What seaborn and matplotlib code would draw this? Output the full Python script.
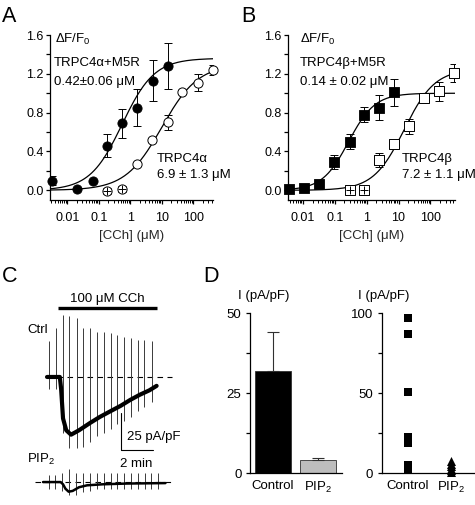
import numpy as np
import matplotlib
matplotlib.use("Agg")
import matplotlib.pyplot as plt
import matplotlib.ticker as mticker
import seaborn as sns

# ==========================================
# DATOS
# ==========================================

# Panel A - TRPC4alpha (+M5R relleno, solo abierto)
conc_a_m5r = [0.0033, 0.021, 0.064, 0.18, 0.55, 1.6, 5.3, 16]
resp_a_m5r = [0.10, 0.01, 0.10, 0.46, 0.69, 0.85, 1.13, 1.28]
err_a_m5r = [0.05, 0.0, 0.0, 0.115, 0.15, 0.19, 0.21, 0.24]
conc_a = [0.18, 0.55, 1.6, 5.0, 16, 45, 140, 420]
resp_a = [-0.005, 0.01, 0.27, 0.52, 0.70, 1.01, 1.11, 1.24]
err_a = [0.03, 0.03, 0.02, 0.02, 0.08, 0.02, 0.09, 0.05]
cruz_a = [True, True, False, False, False, False, False, False]

# Panel B - TRPC4beta
conc_b_m5r = [0.0036, 0.011, 0.032, 0.092, 0.29, 0.8, 2.4, 7.2]
resp_b_m5r = [0.015, 0.025, 0.06, 0.29, 0.50, 0.78, 0.85, 1.01]
err_b_m5r = [0.01, 0.01, 0.02, 0.075, 0.075, 0.08, 0.13, 0.14]
conc_b = [0.29, 0.8, 2.4, 7.2, 21, 63, 190, 560]
resp_b = [0.0, 0.0, 0.31, 0.48, 0.66, 0.95, 1.02, 1.21]
err_b = [0.03, 0.03, 0.07, 0.02, 0.077, 0.05, 0.10, 0.09]
cruz_b = [True, True, False, False, False, False, False, False]

# ajustes Hill: (maximo, EC50, n)
fit_a_m5r = (1.36, 0.55, 0.85)
fit_a = (1.30, 10.0, 0.75)
fit_b_m5r = (1.00, 0.27, 1.05)
fit_b = (1.25, 15.0, 0.90)

# Panel C - registro (min, pA/pF)
ctrl_t = [0, 0.8, 0.88, 1.0, 1.2, 1.5, 2.0, 2.7, 3.3, 3.9, 4.6, 5.2, 5.8, 6.4, 6.85]
ctrl_i = [0, 0, -8, -28, -36, -39, -36, -31, -27, -23.5, -19.5, -15.5, -12, -9, -6]
ramp_t = [0.15, 0.56, 0.98, 1.40, 1.85, 2.27, 2.69, 3.15, 3.56, 4.0,
          4.4, 4.83, 5.25, 5.67, 6.08, 6.54]
ramp_top = [24, 33, 42, 41, 40, 33, 33, 30.5, 30.5, 29.5, 28.5, 27, 26, 25, 25, 24]
ramp_bot = [-8, -8, -38, -48, -48, -47, -44, -40, -38, -35, -32, -30, -27, -23, -20, -17]

pip_t = [-0.25, 0.85, 1.0, 1.15, 1.35, 1.6, 2.0, 2.5, 3.5, 5.0, 7.4]
pip_i = [0, 0, -1.5, -4.5, -6.5, -6, -3.5, -2.2, -1.5, -1, -0.7]
pip_ramp_t = [0.1, 0.5, 0.93, 1.37, 1.82, 2.25, 2.68, 3.12, 3.55, 3.98,
              4.4, 4.83, 5.25, 5.67, 6.1, 6.53, 6.95]
pip_ramp_top = [5, 5, 6, 9, 6, 6, 6, 6, 6, 6, 6, 6, 6, 6, 6, 6, 6]
pip_ramp_bot = [-5, -5, -6, -9, -9, -7, -6, -5, -5, -5, -5, -5, -5, -5, -5, -5, -5]

# Panel D
grupos = ["Control", "PIP$_2$"]
media_d = [32.1, 4.1]
err_d = [12.2, 0.6]
ctrl_celdas = [97, 87, 51, 23, 19, 5, 2]
pip_celdas = [8, 6, 4.5, 3, 2, 1]

# ==========================================
# ESTILO
# ==========================================

sns.set_theme(style="ticks")
plt.rcParams["font.family"] = ["Liberation Sans", "DejaVu Sans"]
plt.rcParams["mathtext.fontset"] = "custom"
plt.rcParams["mathtext.rm"] = "Liberation Sans"
plt.rcParams["mathtext.it"] = "Liberation Sans:italic"
plt.rcParams["mathtext.default"] = "regular"
plt.rcParams.update({
    "font.size": 9,
    "xtick.labelsize": 9,
    "ytick.labelsize": 9,
    "axes.labelsize": 9.5,
    "axes.linewidth": 0.9,
    "xtick.major.width": 0.9,
    "ytick.major.width": 0.9,
    "xtick.minor.width": 0.7,
    "ytick.minor.width": 0.9,
    "xtick.major.size": 3.2,
    "xtick.minor.size": 2.0,
    "ytick.major.size": 3.2,
    "ytick.minor.size": 3.2,
    "axes.edgecolor": "black",
    "xtick.color": "black",
    "ytick.color": "black",
    "text.color": "black",
})

W, H = 475, 505
fig = plt.figure(figsize=(W / 100, H / 100), dpi=100)


def px(x, y):
    return x / W, 1 - y / H


def hill(x, top, ec50, n):
    return top / (1 + (ec50 / x) ** n)


# ==========================================
# PANELES A y B
# ==========================================

def dosis(rect, xlim, fill_x, fill_y, fill_e, open_x, open_y, open_e, cruz,
          fit_fill, fit_open, marker):
    ax = fig.add_axes(rect)
    xs = np.logspace(np.log10(xlim[0]), np.log10(xlim[1]), 200)
    sns.lineplot(x=xs, y=hill(xs, *fit_fill), ax=ax, color="black", lw=0.9)
    sns.lineplot(x=xs, y=hill(xs, *fit_open), ax=ax, color="black", lw=0.9)
    ax.errorbar(fill_x, fill_y, yerr=fill_e, fmt="none", ecolor="black",
                elinewidth=0.7, capsize=2.8, capthick=0.7, zorder=3)
    ax.errorbar(open_x, open_y, yerr=open_e, fmt="none", ecolor="black",
                elinewidth=0.7, capsize=2.8, capthick=0.7, zorder=3)
    sns.scatterplot(x=fill_x, y=fill_y, ax=ax, marker=marker, s=44,
                    color="black", edgecolor="black", linewidth=0.6,
                    zorder=4, clip_on=False)
    sns.scatterplot(x=open_x, y=open_y, ax=ax, marker=marker, s=44,
                    color="white", edgecolor="black", linewidth=0.7,
                    zorder=4, clip_on=False)
    cx = [x for x, c in zip(open_x, cruz) if c]
    cy = [y for y, c in zip(open_y, cruz) if c]
    ax.scatter(cx, cy, marker="+", s=34, color="black", linewidth=0.7, zorder=6)
    ax.set_xscale("log")
    ax.set_xlim(*xlim)
    ax.set_ylim(-0.1, 1.6)
    ax.set_yticks([0, 0.4, 0.8, 1.2, 1.6])
    ax.set_yticklabels(["0.0", "0.4", "0.8", "1.2", "1.6"])
    ax.yaxis.set_minor_locator(mticker.FixedLocator([0.2, 0.6, 1.0, 1.4]))
    ax.xaxis.set_major_locator(mticker.FixedLocator([0.01, 0.1, 1, 10, 100]))
    ax.xaxis.set_major_formatter(mticker.FixedFormatter(["0.01", "0.1", "1", "10", "100"]))
    ax.xaxis.set_minor_locator(mticker.LogLocator(base=10, subs=np.arange(2, 10), numticks=20))
    ax.xaxis.set_minor_formatter(mticker.NullFormatter())
    ax.tick_params(axis="x", pad=5.5)
    ax.tick_params(axis="y", pad=1.5)
    ax.set_xlabel("[CCh] (μM)", labelpad=4)
    ax.set_ylabel("")
    sns.despine(ax=ax)
    return ax


ax_a = dosis([50 / W, 1 - 200 / H, 163 / W, 165 / H], (0.00284, 420),
             conc_a_m5r, resp_a_m5r, err_a_m5r, conc_a, resp_a, err_a, cruz_a,
             fit_a_m5r, fit_a, "o")
ax_b = dosis([288 / W, 1 - 200 / H, 167 / W, 165 / H], (0.0034, 590),
             conc_b_m5r, resp_b_m5r, err_b_m5r, conc_b, resp_b, err_b, cruz_b,
             fit_b_m5r, fit_b, "s")

fs_t = 9.5
fig.text(*px(55, 43), "ΔF/F$_0$", fontsize=fs_t)
fig.text(*px(54, 66), "TRPC4α+M5R", fontsize=fs_t)
fig.text(*px(54, 85), "0.42±0.06 μM", fontsize=fs_t)
fig.text(*px(157, 162), "TRPC4α", fontsize=fs_t)
fig.text(*px(157, 178), "6.9 ± 1.3 μM", fontsize=fs_t)

fig.text(*px(300, 43), "ΔF/F$_0$", fontsize=fs_t)
fig.text(*px(300, 66), "TRPC4β+M5R", fontsize=fs_t)
fig.text(*px(300, 85), "0.14 ± 0.02 μM", fontsize=fs_t)
fig.text(*px(402, 162), "TRPC4β", fontsize=fs_t)
fig.text(*px(402, 178), "7.2 ± 1.1 μM", fontsize=fs_t)

# ==========================================
# PANEL C
# ==========================================

ax_c = fig.add_axes([0, 0, 235 / W, 230 / H])
ax_c.set_xlim(-2.94, 11.75)
ax_c.set_ylim(-86.5, 68.9)
ax_c.axis("off")

pip_off = -71

ax_c.hlines(0, 0, 7.8, colors="black", lw=0.8, linestyles=(0, (5, 4)))
ax_c.hlines(pip_off, -0.75, 7.8, colors="black", lw=0.8, linestyles=(0, (5, 4)))
ax_c.vlines(ramp_t, ramp_bot, ramp_top, colors="#3a3a3a", lw=0.7)
sns.lineplot(x=ctrl_t, y=ctrl_i, ax=ax_c, color="black", lw=3.0, sort=False,
             estimator=None)
ax_c.vlines(pip_ramp_t, np.array(pip_ramp_bot) + pip_off,
            np.array(pip_ramp_top) + pip_off, colors="#3a3a3a", lw=0.7)
sns.lineplot(x=pip_t, y=np.array(pip_i) + pip_off, ax=ax_c, color="black",
             lw=1.8, sort=False, estimator=None)

ax_c.hlines(46.6, 0.69, 6.9, colors="black", lw=2.4)
ax_c.text(3.75, 50.7, "100 μM CCh", ha="center", va="baseline", fontsize=fs_t)
ax_c.text(-1.25, 29.7, "Ctrl", ha="left", va="baseline", fontsize=fs_t)
ax_c.text(-1.25, -58, "PIP$_2$", ha="left", va="baseline", fontsize=fs_t)

# barra de escala
ax_c.plot([4.63, 4.63, 6.63], [-24.3, -49.3, -49.3], color="black", lw=0.8)
ax_c.text(5.0, -42.6, "25 pA/pF", ha="left", va="baseline", fontsize=fs_t)
ax_c.text(5.56, -60.6, "2 min", ha="center", va="baseline", fontsize=fs_t)

# ==========================================
# PANEL D
# ==========================================

ax_d1 = fig.add_axes([250 / W, 1 - 473.3 / H, 91.7 / W, 160 / H])
sns.barplot(x=grupos, y=media_d, ax=ax_d1, palette=["black", "#bdbdbd"],
            hue=grupos, legend=False, width=0.8, edgecolor="#303030",
            linewidth=0.6)
ax_d1.errorbar([0, 1], media_d, yerr=[[0, 0], err_d], fmt="none",
               ecolor="#303030", elinewidth=0.8, capsize=4, capthick=0.8)
ax_d1.set_xlim(-0.51, 1.52)
ax_d1.set_ylim(0, 50)
ax_d1.set_yticks([0, 25, 50])
ax_d1.yaxis.set_minor_locator(mticker.FixedLocator([12.5, 37.5]))
ax_d1.tick_params(axis="x", length=0, pad=5, labelsize=9.5)
ax_d1.tick_params(axis="y", pad=3, labelsize=9.5)
ax_d1.set_ylabel("")
sns.despine(ax=ax_d1)

ax_d2 = fig.add_axes([381.7 / W, 1 - 473.3 / H, 93.3 / W, 160 / H])
sns.stripplot(x=["Control"] * len(ctrl_celdas), y=ctrl_celdas, ax=ax_d2,
              order=grupos, jitter=False, marker="s", size=6.2,
              color="black", clip_on=False, zorder=3)
sns.stripplot(x=["PIP$_2$"] * len(pip_celdas), y=pip_celdas, ax=ax_d2,
              order=grupos, jitter=False, marker="^", size=6.5,
              color="black", clip_on=False, zorder=3)
ax_d2.set_xlim(-0.6, 1.56)
ax_d2.set_ylim(0, 100)
ax_d2.set_yticks([0, 50, 100])
ax_d2.yaxis.set_minor_locator(mticker.FixedLocator([25, 75]))
ax_d2.tick_params(axis="x", length=0, pad=5, labelsize=9.5)
ax_d2.tick_params(axis="y", pad=3, labelsize=9.5)
ax_d2.set_ylabel("")
sns.despine(ax=ax_d2)

fig.text(*px(238, 299), "I (pA/pF)", fontsize=fs_t)
fig.text(*px(358, 299), "I (pA/pF)", fontsize=fs_t)

# letras de panel
for letra, (x, y) in zip("ABCD", [(2, 22), (241, 22), (2, 282), (203, 282)]):
    fig.text(*px(x, y), letra, fontsize=15.5)

fig.savefig("out.png", dpi=100)
